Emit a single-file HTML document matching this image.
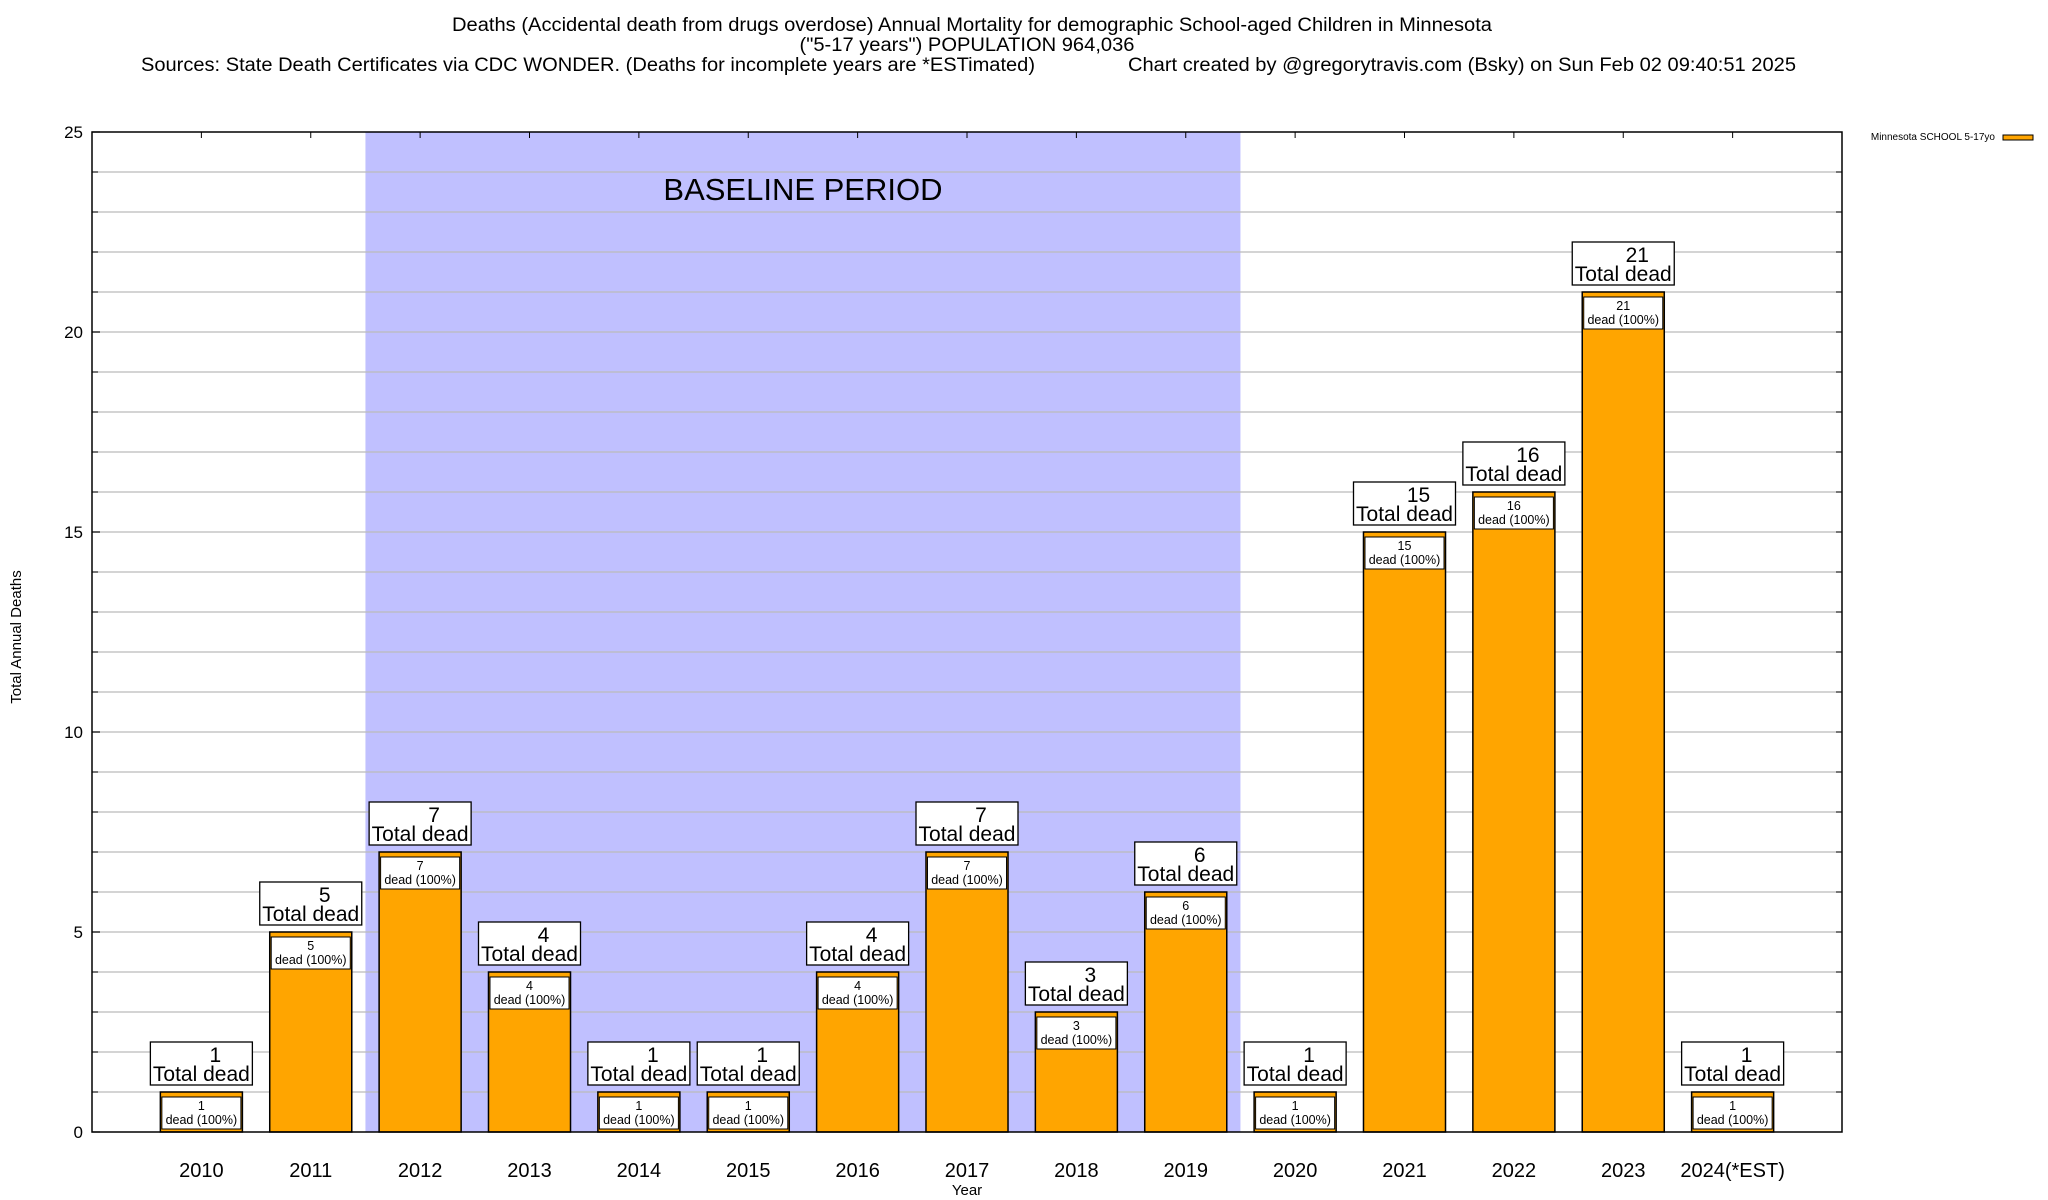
<!DOCTYPE html>
<html><head><meta charset="utf-8"><style>
html,body{margin:0;padding:0;background:#fff;}
svg{display:block;font-family:"Liberation Sans",Arial,sans-serif;}
</style></head><body>
<svg id="chart" width="2048" height="1200" viewBox="0 0 2048 1200" xmlns="http://www.w3.org/2000/svg">
<g font-size="19" text-anchor="middle" fill="#000">
<text x="972" y="31" textLength="1040" lengthAdjust="spacingAndGlyphs">Deaths (Accidental death from drugs overdose) Annual Mortality for demographic School-aged Children in Minnesota</text>
<text x="967" y="51" textLength="335" lengthAdjust="spacingAndGlyphs">("5-17 years") POPULATION 964,036</text>
<text x="588" y="71" textLength="894" lengthAdjust="spacingAndGlyphs">Sources: State Death Certificates via CDC WONDER. (Deaths for incomplete years are *ESTimated)</text>
<text x="1462" y="71" textLength="668" lengthAdjust="spacingAndGlyphs">Chart created by @gregorytravis.com (Bsky) on Sun Feb 02 09:40:51 2025</text>
</g>
<g id="plot"></g>
<g>
<text x="1995" y="140" font-size="10" text-anchor="end">Minnesota SCHOOL 5-17yo</text>
<rect x="2003" y="135" width="30" height="5" fill="#ffa500" stroke="#000" stroke-width="1"/>
</g>
<text transform="translate(21,637) rotate(-90)" font-size="15" text-anchor="middle">Total Annual Deaths</text>
<text x="967" y="1195" font-size="15" text-anchor="middle">Year</text>
</svg>
<script>
const categories = ["2010","2011","2012","2013","2014","2015","2016","2017","2018","2019","2020","2021","2022","2023","2024(*EST)"];
const deaths = [1,5,7,4,1,1,4,7,3,6,1,15,16,21,1];
const yTicks = [0,5,10,15,20,25];
const baselineStart = 1.5, baselineEnd = 9.5;

const L=92,R=1842,T=132,B=1132;
const xMin=-1,xMax=15,yMin=0,yMax=25;
const xs=v=>L+(v-xMin)/(xMax-xMin)*(R-L);
const ys=v=>B-(v-yMin)/(yMax-yMin)*(B-T);
const NS="http://www.w3.org/2000/svg";
const plot=document.getElementById('plot');
function mk(tag,attrs,parent,text){const e=document.createElementNS(NS,tag);for(const k in attrs)e.setAttribute(k,attrs[k]);if(text!==undefined)e.textContent=text;(parent||plot).appendChild(e);return e;}

const bs=mk('rect',{x:xs(baselineStart),y:T,width:xs(baselineEnd)-xs(baselineStart),height:B-T,fill:'#c0c0ff'});


for(let v=1;v<yMax;v++){
  const g=mk('line',{x1:L,x2:R,y1:ys(v),y2:ys(v),stroke:'#bbb','stroke-width':1.3});
  
  
  const t1=mk('line',{x1:L,x2:L+6,y1:ys(v),y2:ys(v),stroke:'#000','stroke-width':1});
  
  
  const t2=mk('line',{x1:R-6,x2:R,y1:ys(v),y2:ys(v),stroke:'#000','stroke-width':1});
  
  
}
const bt=mk('text',{x:xs(5.5),y:ys(23.3),'font-size':31,'text-anchor':'middle'},plot,'BASELINE PERIOD');


yTicks.forEach(v=>{
  const t=mk('text',{x:83,y:ys(v)+6,'font-size':17,'text-anchor':'end'},plot,String(v));
  
  
});
const bw=0.75;
categories.forEach((c,i)=>{
  const cx=xs(i), w=xs(bw)-xs(0), top=ys(deaths[i]);
  const g=mk('g',{});
  
  
  const r=mk('rect',{x:cx-w/2,y:top,width:w,height:B-top,fill:'#ffa500',stroke:'#000','stroke-width':1.5},g);
  
  
  const ib=mk('rect',{x:cx-w/2+1.5,y:top+5,width:w-3,height:Math.min(32,B-top-8),fill:'#fff',stroke:'#000','stroke-width':1},g);
  
  
  const t1=mk('text',{x:cx,y:top+18,'font-size':12.5,'text-anchor':'middle'},g,String(deaths[i]));
  
  
  const t2=mk('text',{x:cx,y:top+32,'font-size':12.5,'text-anchor':'middle'},g,'dead (100%)');
  
  
  const ob=mk('rect',{x:cx-51,y:top-50,width:102,height:43,fill:'#fff',stroke:'#000','stroke-width':1.3},g);
  
  
  const o1=mk('text',{x:cx+14,y:top-30,'font-size':21,'text-anchor':'middle'},g,String(deaths[i]));
  
  
  const o2=mk('text',{x:cx,y:top-11,'font-size':21,'text-anchor':'middle'},g,'Total dead');
  
  
  const xl=mk('text',{x:cx,y:1177,'font-size':20,'text-anchor':'middle'},plot,c);
  
  
  const tt=mk('line',{x1:cx,x2:cx,y1:T,y2:T+6,stroke:'#000','stroke-width':1});
  
  
});
yTicks.forEach(v=>{
  const t=mk('line',{x1:L,x2:L+8,y1:ys(v),y2:ys(v),stroke:'#000','stroke-width':1.2});
  
  
});
const fr=mk('rect',{x:L,y:T,width:R-L,height:B-T,fill:'none',stroke:'#000','stroke-width':1.5});


</script>
</body></html>
